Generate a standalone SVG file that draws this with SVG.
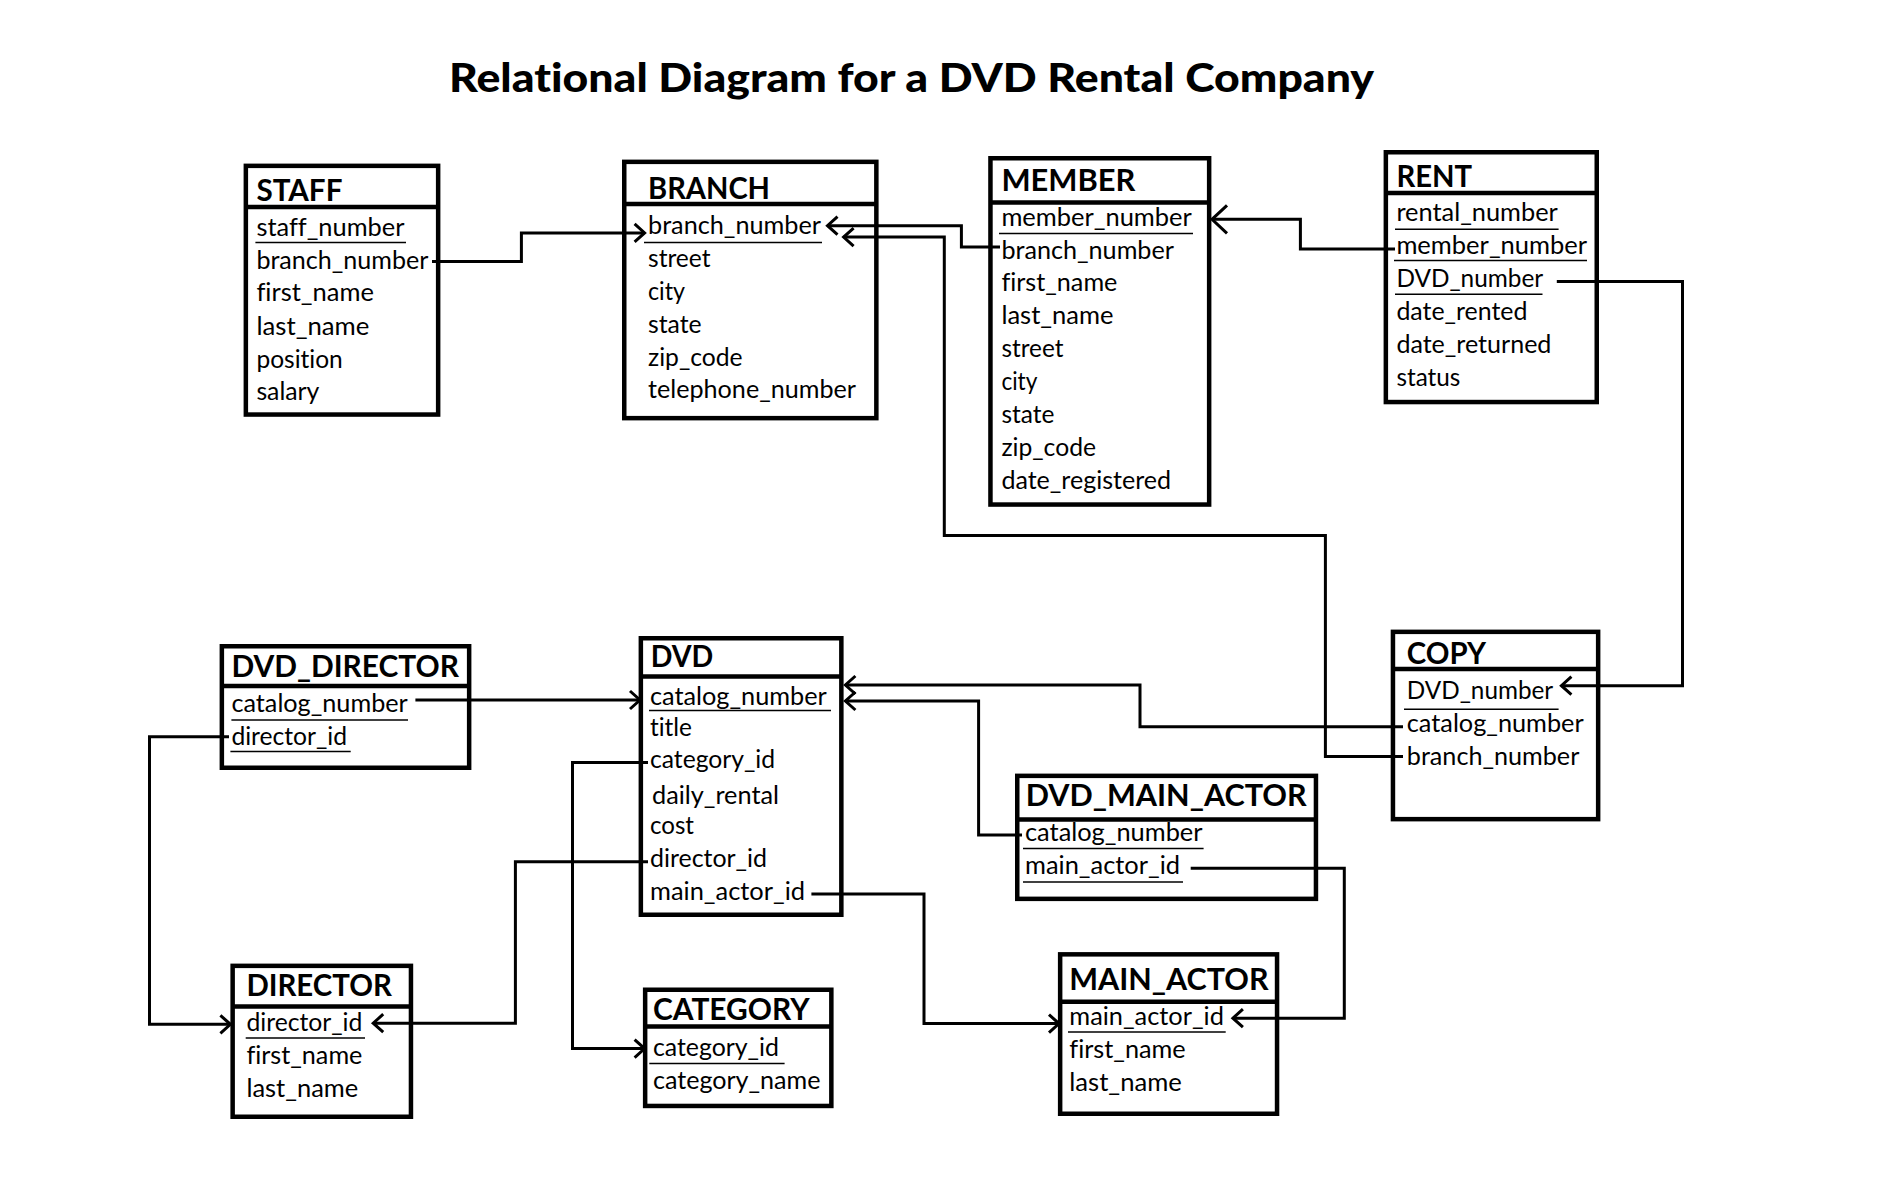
<svg xmlns="http://www.w3.org/2000/svg" width="1884" height="1178" viewBox="0 0 1884 1178">
<style>
text{font-variant-ligatures:none;font-feature-settings:"liga" 0,"clig" 0}
.box{fill:none;stroke:#000;stroke-width:4.5}
.div{stroke:#000;stroke-width:4.5}
.ul{stroke:#000;stroke-width:1.5}
.hd{font-family:Lato,"Liberation Sans",sans-serif;font-weight:bold;font-size:31px;fill:#000}
.fd{font-family:Lato,"Liberation Sans",sans-serif;font-size:24.5px;fill:#000}
.ttl{font-family:Lato,"Liberation Sans",sans-serif;font-weight:900;font-size:40px;fill:#000}
.cn{fill:none;stroke:#000;stroke-width:3}
</style>
<defs>
<marker id="ah" markerUnits="userSpaceOnUse" markerWidth="30" markerHeight="30" viewBox="-15 -15 30 30" refX="0" refY="0" orient="auto">
<path d="M-10,-9 L0,0 L-10,9" fill="none" stroke="#000" stroke-width="3"/>
</marker>
<marker id="ahb" markerUnits="userSpaceOnUse" markerWidth="40" markerHeight="40" viewBox="-20 -20 40 40" refX="0" refY="0" orient="auto">
<path d="M-15,-14 L0,0 L-15,14" fill="none" stroke="#000" stroke-width="3"/>
</marker>
</defs>
<rect width="1884" height="1178" fill="#fff"/>
<text class="ttl" x="449" y="92" textLength="925" lengthAdjust="spacingAndGlyphs">Relational Diagram for a DVD Rental Company</text>

<g id="connectors">
<path class="cn" d="M432,261.4 H521.4 V232.9 H644.6" marker-end="url(#ah)"/>
<path class="cn" d="M1000,247 H961.4 V225.7 H827.5" marker-end="url(#ah)"/>
<path class="cn" d="M1403,756.4 H1325.4 V535.4 H944.3 V237.1 H843.6" marker-end="url(#ah)"/>
<path class="cn" d="M1395,249 H1300.4 V219.3 H1212" marker-end="url(#ahb)"/>
<path class="cn" d="M1556.8,281.4 H1682.5 V685.7 H1561.4" marker-end="url(#ah)"/>
<path class="cn" d="M1403,726.8 H1140 V685 H845.4" marker-end="url(#ah)"/>
<path class="cn" d="M1022,835 H978.6 V701 H845.4" marker-end="url(#ah)"/>
<path class="cn" d="M415.4,700 H640" marker-end="url(#ah)"/>
<path class="cn" d="M229,736.8 H149.5 V1024.3 H230.4" marker-end="url(#ah)"/>
<path class="cn" d="M648,861.8 H515.4 V1023.2 H373.2" marker-end="url(#ah)"/>
<path class="cn" d="M648,762.5 H572.5 V1048.6 H644.6" marker-end="url(#ah)"/>
<path class="cn" d="M811.4,894 H924 V1023.6 H1059" marker-end="url(#ah)"/>
<path class="cn" d="M1190.7,868.2 H1344.3 V1018.2 H1232.9" marker-end="url(#ah)"/>
</g>

<g id="staff">
<rect class="box" x="245.85" y="165.85" width="192.3" height="248.7"/>
<line class="div" x1="245.85" y1="207" x2="438.15" y2="207"/>
<text class="hd" x="256.4" y="201.4" textLength="86" lengthAdjust="spacingAndGlyphs">STAFF</text>
<text class="fd" x="256.4" y="235.7" textLength="148" lengthAdjust="spacingAndGlyphs">staff_number</text>
<line class="ul" x1="255.4" y1="242.5" x2="406" y2="242.5"/>
<text class="fd" x="256.4" y="268.6" textLength="172" lengthAdjust="spacingAndGlyphs">branch_number</text>
<text class="fd" x="256.4" y="301.4" textLength="117.5" lengthAdjust="spacingAndGlyphs">first_name</text>
<text class="fd" x="256.4" y="334.5" textLength="113" lengthAdjust="spacingAndGlyphs">last_name</text>
<text class="fd" x="256.4" y="367.5" textLength="86.4" lengthAdjust="spacingAndGlyphs">position</text>
<text class="fd" x="256.4" y="400" textLength="63" lengthAdjust="spacingAndGlyphs">salary</text>
</g>

<g id="branch">
<rect class="box" x="624.25" y="161.85" width="252.1" height="256.3"/>
<line class="div" x1="624.25" y1="204" x2="876.35" y2="204"/>
<text class="hd" x="648" y="199" textLength="122" lengthAdjust="spacingAndGlyphs">BRANCH</text>
<text class="fd" x="648" y="233.6" textLength="173" lengthAdjust="spacingAndGlyphs">branch_number</text>
<line class="ul" x1="644" y1="242.5" x2="822" y2="242.5"/>
<text class="fd" x="648" y="266.8" textLength="62.5" lengthAdjust="spacingAndGlyphs">street</text>
<text class="fd" x="648" y="299.6" textLength="37" lengthAdjust="spacingAndGlyphs">city</text>
<text class="fd" x="648" y="332.9" textLength="53.6" lengthAdjust="spacingAndGlyphs">state</text>
<text class="fd" x="648" y="365.7" textLength="94.6" lengthAdjust="spacingAndGlyphs">zip_code</text>
<text class="fd" x="648" y="398" textLength="208" lengthAdjust="spacingAndGlyphs">telephone_number</text>
</g>

<g id="member">
<rect class="box" x="990.45" y="158.25" width="218.7" height="346.3"/>
<line class="div" x1="990.45" y1="202.5" x2="1209.15" y2="202.5"/>
<text class="hd" x="1001.4" y="191" textLength="134" lengthAdjust="spacingAndGlyphs">MEMBER</text>
<text class="fd" x="1001.4" y="225.7" textLength="190.4" lengthAdjust="spacingAndGlyphs">member_number</text>
<line class="ul" x1="999" y1="233.6" x2="1193" y2="233.6"/>
<text class="fd" x="1001.4" y="258.6" textLength="172.5" lengthAdjust="spacingAndGlyphs">branch_number</text>
<text class="fd" x="1001.4" y="291.4" textLength="116" lengthAdjust="spacingAndGlyphs">first_name</text>
<text class="fd" x="1001.4" y="324.3" textLength="112" lengthAdjust="spacingAndGlyphs">last_name</text>
<text class="fd" x="1001.4" y="357.1" textLength="62" lengthAdjust="spacingAndGlyphs">street</text>
<text class="fd" x="1001.4" y="390" textLength="36" lengthAdjust="spacingAndGlyphs">city</text>
<text class="fd" x="1001.4" y="422.9" textLength="53" lengthAdjust="spacingAndGlyphs">state</text>
<text class="fd" x="1001.4" y="455.7" textLength="94.6" lengthAdjust="spacingAndGlyphs">zip_code</text>
<text class="fd" x="1001.4" y="488.5" textLength="169.6" lengthAdjust="spacingAndGlyphs">date_registered</text>
</g>

<g id="rent">
<rect class="box" x="1385.85" y="152.25" width="210.9" height="249.8"/>
<line class="div" x1="1385.85" y1="192.9" x2="1596.75" y2="192.9"/>
<text class="hd" x="1396.4" y="187" textLength="75.7" lengthAdjust="spacingAndGlyphs">RENT</text>
<text class="fd" x="1396.4" y="221.4" textLength="161.4" lengthAdjust="spacingAndGlyphs">rental_number</text>
<line class="ul" x1="1395" y1="229.3" x2="1558.6" y2="229.3"/>
<text class="fd" x="1396.4" y="254.3" textLength="190.7" lengthAdjust="spacingAndGlyphs">member_number</text>
<line class="ul" x1="1394" y1="260.4" x2="1587" y2="260.4"/>
<text class="fd" x="1396.4" y="287.1" textLength="146.8" lengthAdjust="spacingAndGlyphs">DVD_number</text>
<line class="ul" x1="1395" y1="294.3" x2="1542.5" y2="294.3"/>
<text class="fd" x="1396.4" y="320.4" textLength="131" lengthAdjust="spacingAndGlyphs">date_rented</text>
<text class="fd" x="1396.4" y="353.2" textLength="155" lengthAdjust="spacingAndGlyphs">date_returned</text>
<text class="fd" x="1396.4" y="385.7" textLength="64" lengthAdjust="spacingAndGlyphs">status</text>
</g>

<g id="copy">
<rect class="box" x="1392.95" y="631.85" width="205.2" height="187.3"/>
<line class="div" x1="1392.95" y1="669" x2="1598.15" y2="669"/>
<text class="hd" x="1406.8" y="664.3" textLength="79.3" lengthAdjust="spacingAndGlyphs">COPY</text>
<text class="fd" x="1406.8" y="699.3" textLength="146.4" lengthAdjust="spacingAndGlyphs">DVD_number</text>
<line class="ul" x1="1404" y1="709.3" x2="1558.6" y2="709.3"/>
<text class="fd" x="1406.8" y="732" textLength="176.8" lengthAdjust="spacingAndGlyphs">catalog_number</text>
<text class="fd" x="1406.8" y="765.4" textLength="172.5" lengthAdjust="spacingAndGlyphs">branch_number</text>
</g>

<g id="dvd_director">
<rect class="box" x="221.85" y="646.25" width="247.3" height="121.5"/>
<line class="div" x1="221.85" y1="686" x2="469.15" y2="686"/>
<text class="hd" x="231.4" y="676.8" textLength="227.5" lengthAdjust="spacingAndGlyphs">DVD_DIRECTOR</text>
<text class="fd" x="231.4" y="711.8" textLength="176.4" lengthAdjust="spacingAndGlyphs">catalog_number</text>
<line class="ul" x1="231.4" y1="720" x2="408" y2="720"/>
<text class="fd" x="231.4" y="745" textLength="115.7" lengthAdjust="spacingAndGlyphs">director_id</text>
<line class="ul" x1="230.4" y1="751.4" x2="350.7" y2="751.4"/>
</g>

<g id="dvd">
<rect class="box" x="640.85" y="638.25" width="200.5" height="276.5"/>
<line class="div" x1="640.85" y1="676.4" x2="841.35" y2="676.4"/>
<text class="hd" x="650.7" y="667" textLength="62.5" lengthAdjust="spacingAndGlyphs">DVD</text>
<text class="fd" x="650" y="704.5" textLength="176.8" lengthAdjust="spacingAndGlyphs">catalog_number</text>
<line class="ul" x1="649" y1="710.5" x2="831" y2="710.5"/>
<text class="fd" x="650" y="735.7" textLength="42" lengthAdjust="spacingAndGlyphs">title</text>
<text class="fd" x="650" y="768.2" textLength="125" lengthAdjust="spacingAndGlyphs">category_id</text>
<text class="fd" x="652" y="804" textLength="127" lengthAdjust="spacingAndGlyphs">daily_rental</text>
<text class="fd" x="650" y="834.3" textLength="44" lengthAdjust="spacingAndGlyphs">cost</text>
<text class="fd" x="650" y="867" textLength="117" lengthAdjust="spacingAndGlyphs">director_id</text>
<text class="fd" x="650" y="900" textLength="155" lengthAdjust="spacingAndGlyphs">main_actor_id</text>
</g>

<g id="dvd_main_actor">
<rect class="box" x="1017.25" y="775.85" width="298.7" height="123"/>
<line class="div" x1="1017.25" y1="819.6" x2="1315.95" y2="819.6"/>
<text class="hd" x="1025.7" y="806.4" textLength="281" lengthAdjust="spacingAndGlyphs">DVD_MAIN_ACTOR</text>
<text class="fd" x="1025" y="841.4" textLength="177.5" lengthAdjust="spacingAndGlyphs">catalog_number</text>
<line class="ul" x1="1023" y1="848.6" x2="1203.6" y2="848.6"/>
<text class="fd" x="1025" y="874.3" textLength="155" lengthAdjust="spacingAndGlyphs">main_actor_id</text>
<line class="ul" x1="1023" y1="882" x2="1183" y2="882"/>
</g>

<g id="main_actor">
<rect class="box" x="1060.15" y="954.35" width="216.9" height="159.4"/>
<line class="div" x1="1060.15" y1="1001.8" x2="1277.05" y2="1001.8"/>
<text class="hd" x="1069.3" y="990.4" textLength="199.3" lengthAdjust="spacingAndGlyphs">MAIN_ACTOR</text>
<text class="fd" x="1069.3" y="1025.4" textLength="154.6" lengthAdjust="spacingAndGlyphs">main_actor_id</text>
<line class="ul" x1="1068" y1="1032" x2="1225.7" y2="1032"/>
<text class="fd" x="1069.3" y="1058.2" textLength="116.4" lengthAdjust="spacingAndGlyphs">first_name</text>
<text class="fd" x="1069.3" y="1091" textLength="112.5" lengthAdjust="spacingAndGlyphs">last_name</text>
</g>

<g id="director">
<rect class="box" x="232.65" y="965.85" width="178.3" height="150.9"/>
<line class="div" x1="232.65" y1="1006.4" x2="410.95" y2="1006.4"/>
<text class="hd" x="246.4" y="996.4" textLength="145.4" lengthAdjust="spacingAndGlyphs">DIRECTOR</text>
<text class="fd" x="246.4" y="1031.4" textLength="116" lengthAdjust="spacingAndGlyphs">director_id</text>
<line class="ul" x1="245.7" y1="1037.9" x2="365" y2="1037.9"/>
<text class="fd" x="246.4" y="1064.3" textLength="116" lengthAdjust="spacingAndGlyphs">first_name</text>
<text class="fd" x="246.4" y="1096.8" textLength="111.8" lengthAdjust="spacingAndGlyphs">last_name</text>
</g>

<g id="category">
<rect class="box" x="645.15" y="989.75" width="186.2" height="116.2"/>
<line class="div" x1="645.15" y1="1026.5" x2="831.35" y2="1026.5"/>
<text class="hd" x="652.9" y="1020" textLength="156.8" lengthAdjust="spacingAndGlyphs">CATEGORY</text>
<text class="fd" x="652.9" y="1055.7" textLength="126" lengthAdjust="spacingAndGlyphs">category_id</text>
<line class="ul" x1="649.3" y1="1063.6" x2="784.6" y2="1063.6"/>
<text class="fd" x="652.9" y="1088.6" textLength="167.6" lengthAdjust="spacingAndGlyphs">category_name</text>
</g>
</svg>
